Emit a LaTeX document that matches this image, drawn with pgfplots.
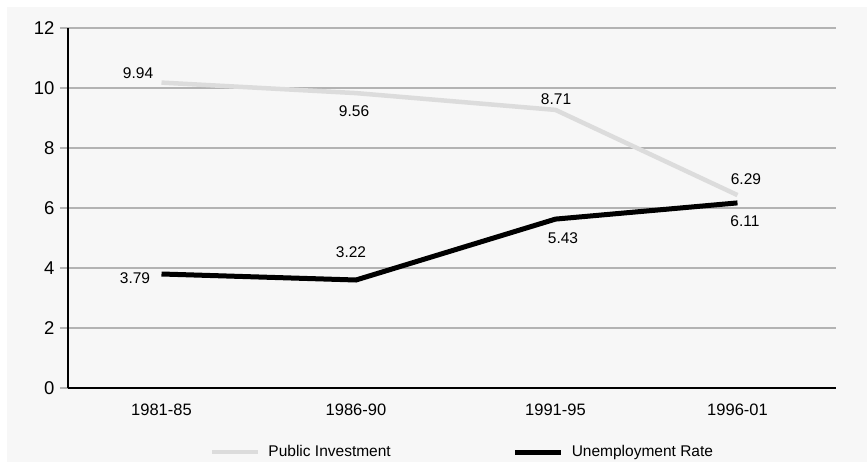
\documentclass[border=0pt]{standalone}
\usepackage{fontspec}
\setmainfont{Liberation Sans}
\usepackage{pgfplots}
\pgfplotsset{compat=1.18}
\definecolor{bgc}{HTML}{F7F7F7}
\definecolor{gridc}{HTML}{B3B3B3}
\definecolor{pic}{HTML}{DCDCDC}
\begin{document}
\begin{tikzpicture}
\path[use as bounding box] (-68bp,-74bp) rectangle (799bp,388bp);
\fill[white] (-68bp,-74bp) rectangle (799bp,388bp);
\fill[bgc] (-61bp,-74bp) rectangle (799bp,381bp);
\begin{axis}[
  at={(0,0)}, anchor=south west,
  scale only axis, width=768bp, height=360bp,
  xmin=0, xmax=4, ymin=0, ymax=12,
  axis x line*=bottom, axis y line*=left,
  axis line style={black, line width=1.6bp, -},
  ytick={0,2,...,12},
  xtick={0.487,1.500,2.539,3.487},
  xticklabels={1981-85,1986-90,1991-95,1996-01},
  ymajorgrids, major grid style={gridc, line width=1.4bp},
  ytick style={draw=gridc, line width=1.4bp},
  xtick style={draw=none},
  tick align=outside, major tick length=8bp,
  /pgf/number format/assume math mode=true,
  yticklabel style={font=\fontsize{18.5bp}{21bp}\selectfont, xshift=-2bp},
  xticklabel style={font=\fontsize{16.5bp}{19bp}\selectfont, yshift=-4bp},
  clip=false,
  legend columns=2,
  legend style={at={(0.5137,-0.1778)}, anchor=center, draw=none, fill=none,
    font=\fontsize{15.5bp}{18bp}\selectfont,
    /tikz/every even column/.append style={column sep=120bp}},
  legend image code/.code={\draw[#1] (0bp,0bp) -- (46bp,0bp); \path (52bp,0bp);},
]
\addplot[pic, line width=4.5bp] coordinates {(0.487,10.18) (1.500,9.83) (2.539,9.27) (3.487,6.43)};
\addlegendentry{Public Investment}
\addplot[black, line width=5bp] coordinates {(0.487,3.80) (1.500,3.60) (2.539,5.63) (3.487,6.17)};
\addlegendentry{Unemployment Rate}
\begin{scope}[every node/.style={font=\fontsize{15.5bp}{18bp}\selectfont, inner sep=0pt}]
\node at (axis cs:0.365,10.5) {9.94};
\node at (axis cs:1.490,9.23) {9.56};
\node at (axis cs:2.542,9.63) {8.71};
\node at (axis cs:3.531,6.97) {6.29};
\node at (axis cs:3.526,5.57) {6.11};
\node at (axis cs:0.349,3.67) {3.79};
\node at (axis cs:1.474,4.53) {3.22};
\node at (axis cs:2.578,5.00) {5.43};
\end{scope}
\end{axis}
\end{tikzpicture}
\end{document}
